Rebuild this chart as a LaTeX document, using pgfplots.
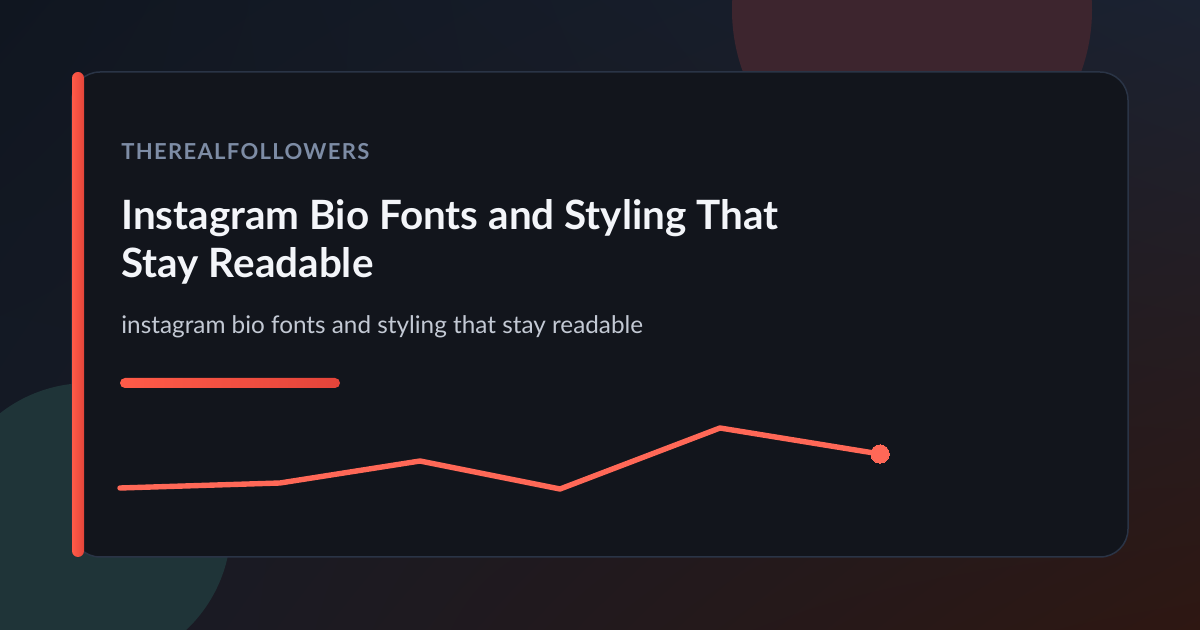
\documentclass[border=0pt]{standalone}
\usepackage{pgfplots}
\pgfplotsset{compat=1.18}
\usetikzlibrary{shadings}
\usepackage{fontspec}
\setmainfont{Lato}
\newfontfamily\kicker[LetterSpace=6]{Lato Bold}

\definecolor{bgTL}{HTML}{101620}
\definecolor{bgTR}{HTML}{1B2231}
\definecolor{bgBL}{HTML}{161B27}
\definecolor{bgBR}{HTML}{2E1712}
\definecolor{blobRed}{HTML}{3D252E}
\definecolor{blobTeal}{HTML}{1F3438}
\definecolor{card}{HTML}{12151C}
\definecolor{cardEdge}{HTML}{2A3446}
\definecolor{accentA}{HTML}{FF5B48}
\definecolor{accentB}{HTML}{E4443A}
\definecolor{spark}{HTML}{FF6857}
\definecolor{kickerc}{HTML}{7D8CA5}
\definecolor{titlec}{HTML}{F3F5F9}
\definecolor{subc}{HTML}{C3C9D4}

\begin{document}
\begin{tikzpicture}
\useasboundingbox (0,0) rectangle (600pt,315pt);
\begin{axis}[
    at={(0,0)}, anchor=south west,
    width=600pt, height=315pt, scale only axis,
    xmin=0, xmax=1200, ymin=0, ymax=630,
    y dir=reverse,
    axis lines=none, ticks=none,
    clip=true,
]
% background and blobs
\shade[upper left=bgTL, upper right=bgTR, lower left=bgBL, lower right=bgBR]
    (axis cs:0,0) rectangle (axis cs:1200,630);
\fill[blobRed] (axis cs:912,10) circle [radius=90pt];
\fill[blobTeal] (axis cs:88,526) circle [radius=71.5pt];

% card
\filldraw[fill=card, draw=cardEdge, line width=0.75pt, rounded corners=14pt]
    (axis cs:72,72) rectangle (axis cs:1128,557);
\shade[left color=accentA, right color=accentB, rounded corners=3pt]
    (axis cs:72,72) rectangle (axis cs:84,557);

% text
\node[anchor=base west, inner sep=0, text=kickerc, font=\kicker\fontsize{11}{13}\selectfont]
    at (axis cs:121,160) {THEREALFOLLOWERS};
\node[anchor=base west, inner sep=0, text=titlec, font=\bfseries\fontsize{20.2}{24}\selectfont]
    at (axis cs:121,230) {Instagram Bio Fonts and Styling That};
\node[anchor=base west, inner sep=0, text=titlec, font=\bfseries\fontsize{20.2}{24}\selectfont]
    at (axis cs:121,278) {Stay Readable};
\node[anchor=base west, inner sep=0, text=subc, font=\fontsize{12.15}{14}\selectfont]
    at (axis cs:121,334) {instagram bio fonts and styling that stay readable};

% accent bar
\shade[left color=accentA, right color=accentB, rounded corners=2.5pt]
    (axis cs:120,378) rectangle (axis cs:340,388);

% sparkline
\addplot[spark, line width=2.7pt, line join=round, line cap=round,
    mark=*, mark size=4.6pt, mark indices={6}, mark options={fill=spark, draw=spark, line width=0pt}]
    coordinates {(120,488) (280,483) (420,461) (560,489) (720,428) (880,454)};
\end{axis}
\end{tikzpicture}
\end{document}
